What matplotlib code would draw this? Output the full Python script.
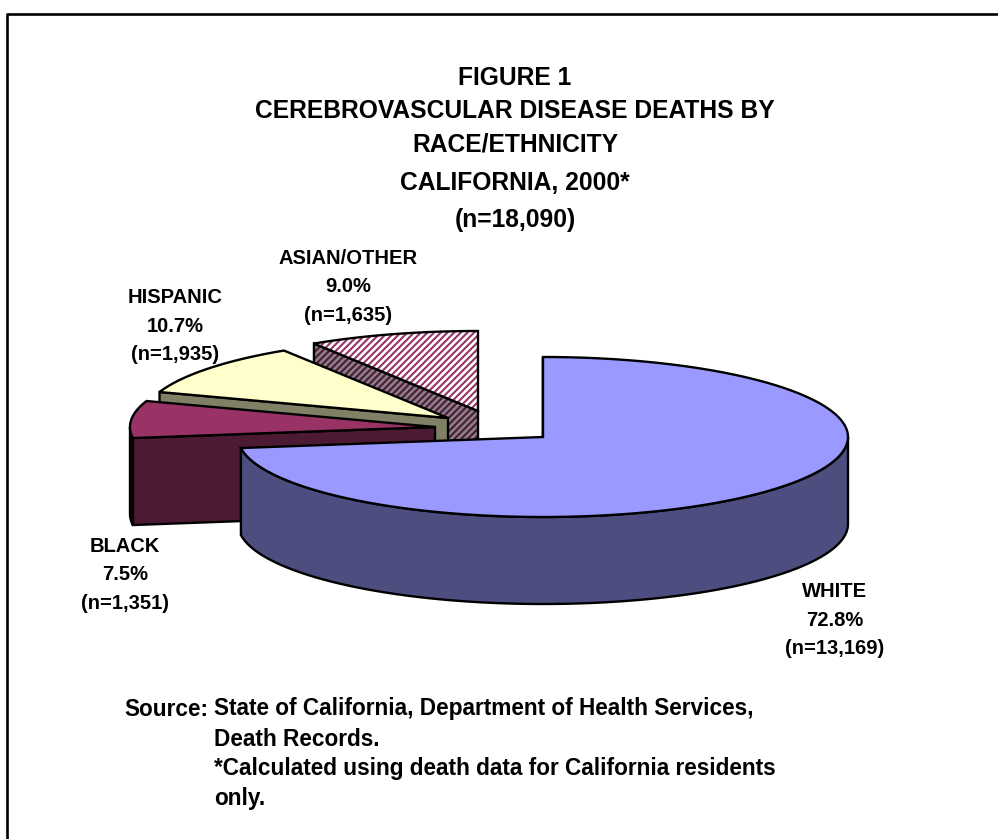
import numpy as np
import matplotlib
matplotlib.use("Agg")
import matplotlib.pyplot as plt
from matplotlib.patches import Polygon

plt.rcParams["font.family"] = ["Liberation Sans", "DejaVu Sans"]
plt.rcParams["hatch.linewidth"] = 1.5


#---DATA---
categories = ["WHITE", "BLACK", "HISPANIC", "ASIAN/OTHER"]
deaths = [13169, 1351, 1935, 1635]
percents = [72.8, 7.5, 10.7, 9.0]

title_lines = [
    "FIGURE 1",
    "CEREBROVASCULAR DISEASE DEATHS BY",
    "RACE/ETHNICITY",
    "CALIFORNIA, 2000*",
    "(n=18,090)",
]
source_lines = [
    "State of California, Department of Health Services,",
    "Death Records.",
    "*Calculated using death data for California residents",
    "only.",
]


#---PIE LAYOUT (pixels)---
RX = 305
RY = 80
DEPTH = 87
centers = [(543, 437), (435, 427), (448, 418), (478, 411)]
label_pos = [(835, 620), (125, 575), (175, 326), (348, 287)]

top_colors = ["#9999ff", "#993366", "#ffffcc", "#ffffff"]
cut_colors = ["#4d4d80", "#4d1a33", "#808066", "#8a808a"]
rim_colors = ["#4d4d80", "#140810", "#808066", "#8a808a"]
hatch_colors = [None, None, None, "#993366"]
side_hatch_colors = [None, None, None, "#4d1a33"]


#---HELPERS---
def rim_point(center, angle):
    # angle in degrees clockwise from the top of the ellipse
    a = np.radians(angle)
    return center[0] + RX * np.sin(a), center[1] - RY * np.cos(a)


def draw_face(ax, pts, color, hatch_color=None, zorder=1):
    ax.add_patch(Polygon(pts, closed=True, facecolor=color, edgecolor="none", zorder=zorder))
    if hatch_color is not None:
        ax.add_patch(Polygon(pts, closed=True, facecolor="none", edgecolor=hatch_color,
                             hatch="/////", linewidth=0, zorder=zorder))
    ax.add_patch(Polygon(pts, closed=True, facecolor="none", edgecolor="black",
                         linewidth=1.7, zorder=zorder))


def draw_wall(ax, center, arc, color, zorder):
    upper = [rim_point(center, a) for a in arc]
    lower = [(x, y + DEPTH) for x, y in upper]
    draw_face(ax, upper + lower[::-1], color, None, zorder)


def draw_slice(ax, center, start, end, i, zorder):
    arc = np.linspace(start, end, 160)
    top = [rim_point(center, a) for a in arc]

    # cut face on the counter-clockwise end of the slice
    p = rim_point(center, start)
    cut = [p, center, (center[0], center[1] + DEPTH), (p[0], p[1] + DEPTH)]
    draw_face(ax, cut, cut_colors[i], side_hatch_colors[i], zorder)

    # outer wall, only the front half of the ellipse shows
    lo, hi = max(start, 90), min(end, 270)
    if hi > lo:
        draw_wall(ax, center, np.linspace(lo, hi, 120), rim_colors[i], zorder)

    draw_face(ax, [center] + top, top_colors[i], hatch_colors[i], zorder)


#---CREATE CHART---
fig = plt.figure(figsize=(9.98, 8.39), dpi=100)
ax = fig.add_axes([0, 0, 1, 1])
ax.set_xlim(0, 998)
ax.set_ylim(839, 0)
ax.axis("off")

# chart frame, only left and top are inside the image
ax.plot([7, 7, 998], [839, 14, 14], color="black", linewidth=1.9, zorder=0)

# slices clockwise from the top, drawn back to front
total = sum(deaths)
angles = np.cumsum([0] + [d / total * 360 for d in deaths])
for i in [3, 2, 1, 0]:
    draw_slice(ax, centers[i], angles[i], angles[i + 1], i, zorder=5 - i)

for i, cat in enumerate(categories):
    ax.text(
        label_pos[i][0], label_pos[i][1],
        f"{cat}\n{percents[i]:.1f}%\n(n={deaths[i]:,})",
        ha="center",
        va="center",
        fontsize=14.5,
        fontweight="bold",
        linespacing=1.62,
        zorder=10
    )

# title
title_y = [78, 111, 145, 183, 220]
for line, y in zip(title_lines, title_y):
    ax.text(515, y, line, ha="center", va="center", fontsize=17.7, fontweight="bold")

# source note
source_y = [709, 739, 769, 799]
ax.text(124, source_y[0], "Source:", ha="left", va="center", fontsize=16.3, fontweight="bold")
for line, y in zip(source_lines, source_y):
    ax.text(214, y, line, ha="left", va="center", fontsize=16.3, fontweight="bold")

fig.savefig("out.png", dpi=100)
